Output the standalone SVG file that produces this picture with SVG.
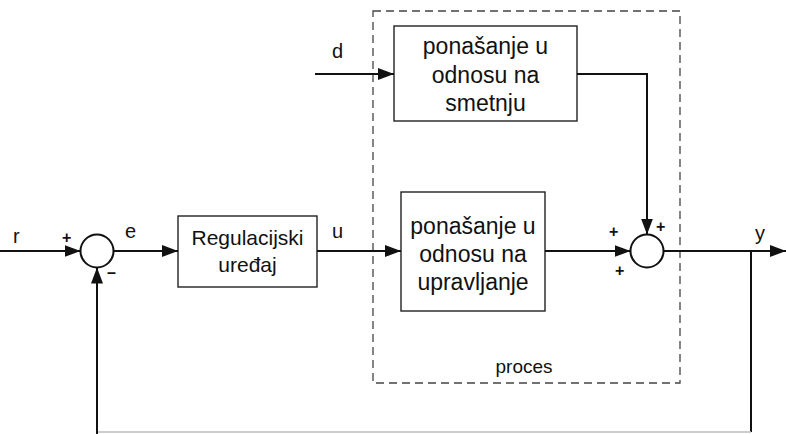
<svg xmlns="http://www.w3.org/2000/svg" width="786" height="434" viewBox="0 0 786 434">
<style>
text{font-family:"Liberation Sans",Arial,sans-serif;fill:#111}
.box{fill:#fff;stroke:#222;stroke-width:1.4}
.sum{fill:#fff;stroke:#111;stroke-width:2}
.bt{font-size:23px;text-anchor:middle}
.rt{font-size:21px;text-anchor:middle}
.lb{font-size:20px}
.sg{font-size:16px;font-weight:bold}
.c{fill:none;stroke:#111;stroke-width:2}
</style>
<defs>
<marker id="ah" markerUnits="userSpaceOnUse" markerWidth="16" markerHeight="12" refX="16" refY="6" orient="auto">
<path d="M0,0 L16,6 L0,12 z" fill="#111"/>
</marker>
</defs>
<g id="proces">
<rect x="373" y="11" width="307" height="372" fill="none" stroke="#444" stroke-width="1.3" stroke-dasharray="8,5"/>
<text x="524" y="373" class="lb" style="font-size:19px" text-anchor="middle">proces</text>
</g>
<g id="sum1">
<circle cx="97" cy="251" r="16.5" class="sum"/>
<text x="62" y="243" class="sg">+</text>
<text x="107" y="278" class="sg">–</text>
</g>
<g id="regulator">
<rect x="178" y="216" width="139" height="71" class="box"/>
<text x="247.5" y="245" class="rt">Regulacijski</text>
<text x="247.5" y="272" class="rt">uređaj</text>
</g>
<g id="smetnja">
<rect x="394" y="26" width="183" height="95" class="box"/>
<text x="485.5" y="54" class="bt">ponašanje u</text>
<text x="485.5" y="83" class="bt">odnosu na</text>
<text x="485.5" y="111" class="bt">smetnju</text>
</g>
<g id="upravljanje">
<rect x="401" y="192" width="144" height="119" class="box"/>
<text x="473" y="234" class="bt">ponašanje u</text>
<text x="473" y="262" class="bt">odnosu na</text>
<text x="473" y="290" class="bt">upravljanje</text>
</g>
<g id="sum2">
<circle cx="647" cy="251" r="16.5" class="sum"/>
<text x="609" y="237" class="sg">+</text>
<text x="615" y="276" class="sg">+</text>
<text x="656" y="232" class="sg">+</text>
</g>
<g id="connectors">
<path d="M0,251 H80.5" class="c" marker-end="url(#ah)"/>
<path d="M113.5,251 H178" class="c" marker-end="url(#ah)"/>
<path d="M317,251 H401" class="c" marker-end="url(#ah)"/>
<path d="M545,251 H630.5" class="c" marker-end="url(#ah)"/>
<path d="M315,74 H394" class="c" marker-end="url(#ah)"/>
<path d="M577,74 H647 V234.5" class="c" marker-end="url(#ah)"/>
<path d="M663.5,251 H786" class="c" marker-end="url(#ah)"/>
<path d="M751,251 V432" class="c"/>
<path d="M751,432 H97" fill="none" stroke="#bbb" stroke-width="1.5"/>
<path d="M97,434 V267.5" class="c" marker-end="url(#ah)"/>
<text x="13" y="243" class="lb">r</text>
<text x="125" y="238" class="lb">e</text>
<text x="332" y="238" class="lb">u</text>
<text x="332" y="58" class="lb">d</text>
<text x="755" y="240" class="lb">y</text>
</g>
</svg>
